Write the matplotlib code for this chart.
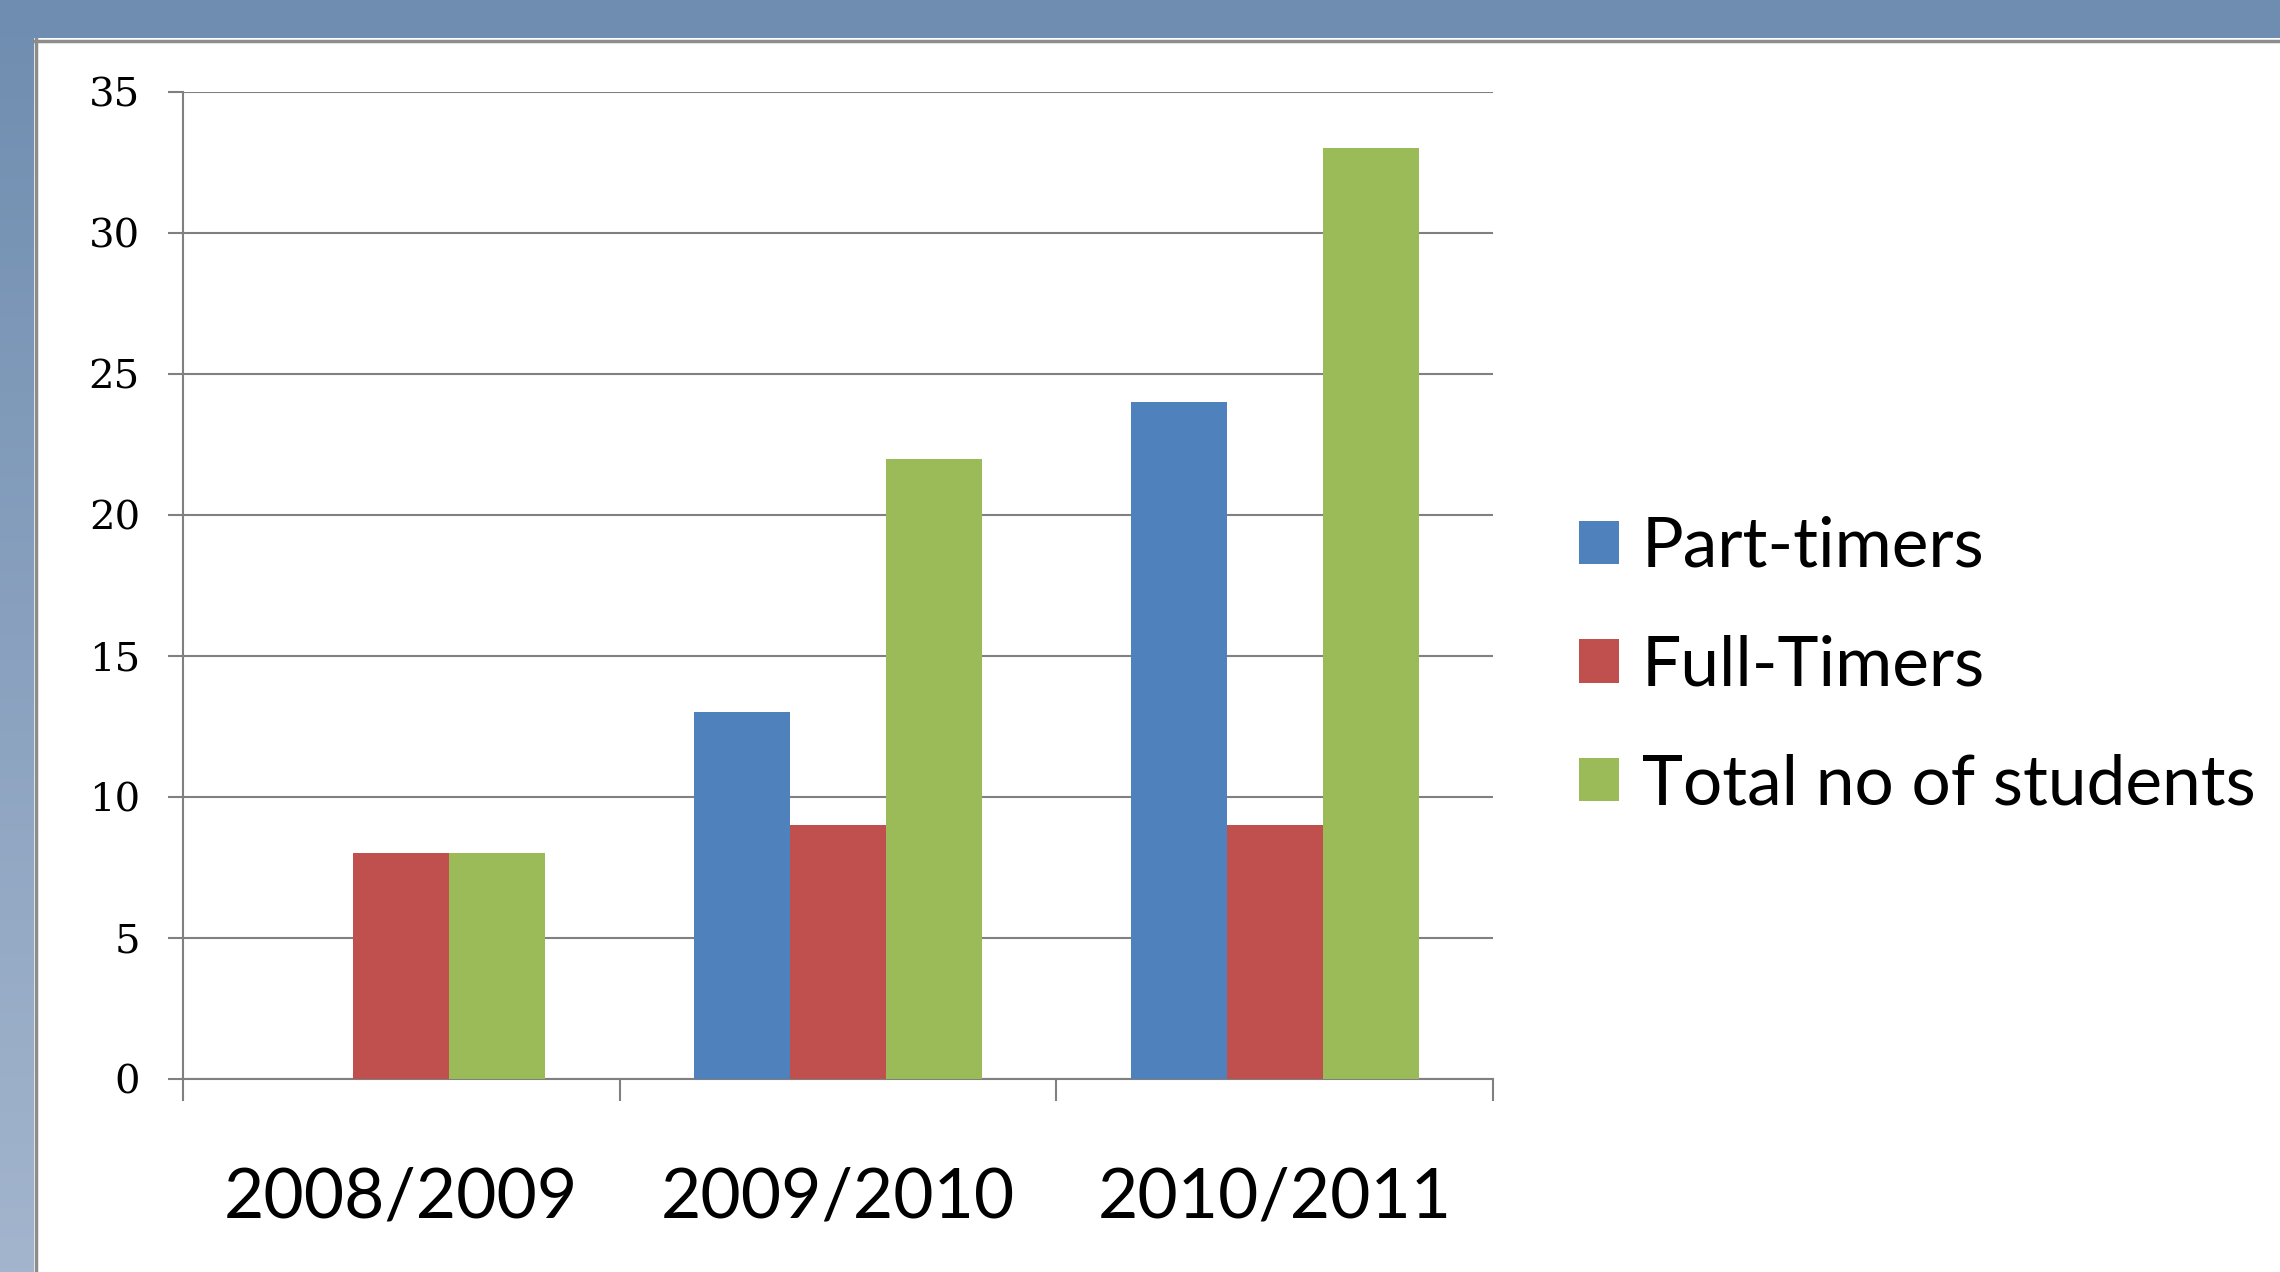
import numpy as np
import matplotlib
matplotlib.use("Agg")
import matplotlib.pyplot as plt
from matplotlib.patches import Rectangle
from matplotlib.ticker import FixedLocator

# data
years = ["2008/2009", "2009/2010", "2010/2011"]
part_timers = [0, 13, 24]
full_timers = [8, 9, 9]
total_students = [8, 22, 33]

series_names = ["Part-timers", "Full-Timers", "Total no of students"]
series_colors = ["#4f81bd", "#c0504d", "#9bbb59"]

W, H = 2280, 1272
fig = plt.figure(figsize=(W / 100, H / 100), dpi=100)
fig.patch.set_facecolor("white")

# slide background: blue top band and gradient left band
bg = fig.add_axes([0, 0, 1, 1], zorder=-10)
bg.axis("off")
bg.add_patch(Rectangle((0, 0), W, 38, color="#6f8db0", lw=0))
grad = np.linspace(0, 1, 256).reshape(-1, 1)
cmap = matplotlib.colors.LinearSegmentedColormap.from_list("band", ["#6f8db0", "#a3b5cd"])
bg.imshow(grad, cmap=cmap, extent=(0, 34, H, 0), aspect="auto")
bg.add_patch(Rectangle((34, 38), W - 34, H - 38, facecolor="white", edgecolor="none"))
bg.plot([35.5, 35.5], [39, H], color="#8c8c8c", lw=2.5)
bg.plot([35, W], [40.5, 40.5], color="#8c8c8c", lw=2.5)
bg.set_xlim(0, W)
bg.set_ylim(H, 0)

ax = fig.add_axes([183 / W, 1 - 1079 / H, (1493 - 183) / W, (1079 - 92) / H])
ax.set_facecolor("none")

x = np.arange(len(years))
width = 0.22
values = [part_timers, full_timers, total_students]
for i, (vals, name, col) in enumerate(zip(values, series_names, series_colors)):
    ax.bar(x + (i - 1) * width, vals, width, color=col, label=name, zorder=3)

ax.set_xlim(-0.5, 2.5)
ax.set_ylim(0, 35)
ax.set_yticks(range(0, 36, 5))
ax.yaxis.grid(True, color="#808080", lw=1.5, zorder=0)
ax.set_axisbelow(True)

for s in ["top", "right"]:
    ax.spines[s].set_visible(False)
for s in ["left", "bottom"]:
    ax.spines[s].set_color("#808080")
    ax.spines[s].set_linewidth(1.5)

ax.tick_params(axis="y", length=11, width=1.5, color="#808080", pad=20,
               labelsize=29)
for lab in ax.get_yticklabels():
    lab.set_fontfamily("DejaVu Serif")

ax.set_xticks(x)
ax.set_xticklabels(years, fontfamily="Lato", fontsize=50)
ax.tick_params(axis="x", which="major", length=0, pad=63)
ax.xaxis.set_minor_locator(FixedLocator([-0.5, 0.5, 1.5, 2.5]))
ax.tick_params(axis="x", which="minor", length=16, width=1.5, color="#808080")

ax.legend(loc="center left", bbox_to_anchor=(1579 / W, 1 - 666 / H),
          bbox_transform=fig.transFigure, frameon=False,
          prop={"family": "Lato", "size": 50},
          handlelength=0.58, handleheight=0.58, handletextpad=0.32,
          labelspacing=0.8, borderaxespad=0, borderpad=0)

fig.savefig("out.png", dpi=100)
